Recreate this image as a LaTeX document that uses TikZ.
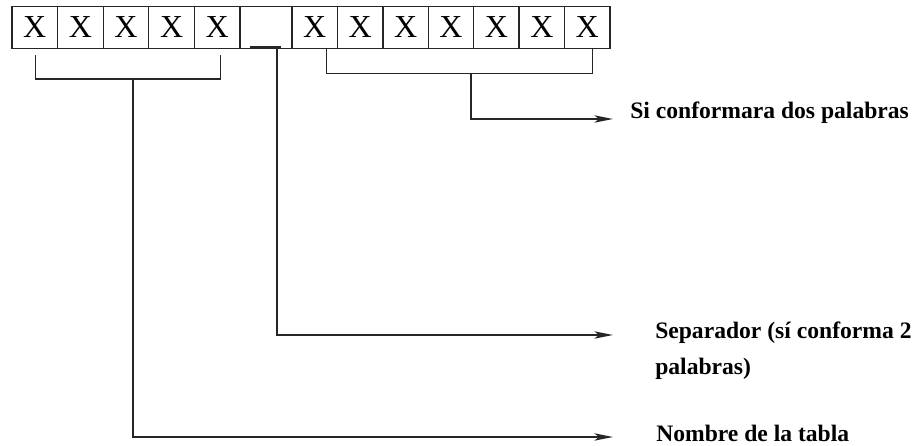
\documentclass[tikz,border=0pt]{standalone}
\usepackage{fontspec}
\setmainfont{Liberation Serif}
\usetikzlibrary{arrows.meta,calc}
\begin{document}
\begin{tikzpicture}[x=0.75pt,y=-0.75pt,
  ln/.style={draw=black!85,line width=1pt},
  cell/.style={ln,minimum height=31.5pt,inner sep=0pt,outer sep=0pt,font=\fontsize{24}{24}\selectfont},
  arr/.style={ln,-{Stealth[length=14pt,width=5.5pt,inset=3.5pt]}},
  lbl/.style={inner sep=0pt,anchor=base west,font=\bfseries\fontsize{17.7}{27}\selectfont}]
\useasboundingbox (0,0) rectangle (917,446);
% cells
\foreach \i in {1,...,5}
  \node[cell,minimum width=34.2pt] (c\i) at ({34.8+45.6*(\i-1)},27.5) {X};
\node[cell,minimum width=39pt] (sep) at (266,27.5) {};
\foreach \i in {6,...,12}
  \node[cell,minimum width=34.07pt] (c\i) at ({314.71+45.43*(\i-6)},27.5) {X};
% labels
\node[lbl] (si) at (630,118) {Si conformara dos palabras};
\node[lbl,align=left] (sepl) at (655,374) {Separador (sí conforma 2\\palabras)};
\node[lbl] (nom) at (656,441) {Nombre de la tabla};
% arrow tips
\coordinate (tipSi) at (613,119);
\coordinate (tipSep) at (613,335);
\coordinate (tipNom) at (613,437);
% separator underline
\coordinate (u1) at ($(sep.south)+(-16,-1.5)$);
\coordinate (u2) at ($(sep.south)+(15,-1.5)$);
\coordinate (sepdrop) at ($(sep.south)+(11,-1.5)$);
\draw[draw=black!85,line width=2.2pt] (u1) -- (u2);
% left bracket
\draw[ln] ($(c1.south)+(1,6.5)$) -- ++(0,24) -| ($(c5.south)+(3,6.5)$);
\coordinate (lstem) at (133,79);
% right bracket
\draw[ln] ($(c6.south)+(12,0)$) |- ($(c12.south)+(5,25)$) -- ($(c12.south)+(5,0)$);
\coordinate (rstem) at (471,73.5);
% connectors
\draw[arr] (rstem) |- (tipSi);
\draw[arr] (sepdrop) |- (tipSep);
\draw[arr] (lstem) |- (tipNom);
\end{tikzpicture}
\end{document}
